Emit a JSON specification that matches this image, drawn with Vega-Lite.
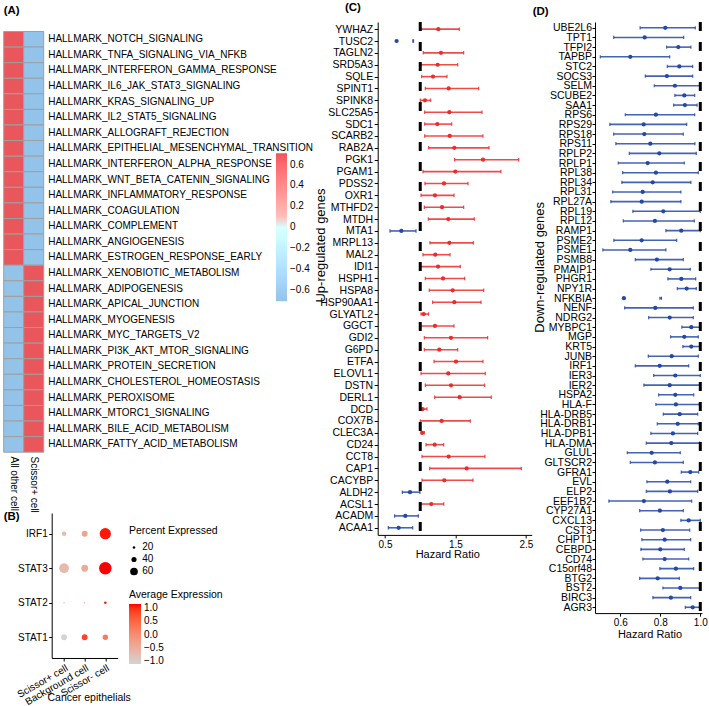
{
  "$schema": "https://vega.github.io/schema/vega-lite/v6.json",
  "usermeta": {"embedOptions": {"actions": false}},
  "padding": {"left": 2.7, "top": 2, "right": 0, "bottom": 1},
  "autosize": {"type": "pad"},
  "datasets": {
    "hallmark": [
      {"pathway": "HALLMARK_NOTCH_SIGNALING", "group": "All other cell", "value": 0.707},
      {"pathway": "HALLMARK_NOTCH_SIGNALING", "group": "Scissor+ cell", "value": -0.707},
      {"pathway": "HALLMARK_TNFA_SIGNALING_VIA_NFKB", "group": "All other cell", "value": 0.707},
      {"pathway": "HALLMARK_TNFA_SIGNALING_VIA_NFKB", "group": "Scissor+ cell", "value": -0.707},
      {"pathway": "HALLMARK_INTERFERON_GAMMA_RESPONSE", "group": "All other cell", "value": 0.707},
      {"pathway": "HALLMARK_INTERFERON_GAMMA_RESPONSE", "group": "Scissor+ cell", "value": -0.707},
      {"pathway": "HALLMARK_IL6_JAK_STAT3_SIGNALING", "group": "All other cell", "value": 0.707},
      {"pathway": "HALLMARK_IL6_JAK_STAT3_SIGNALING", "group": "Scissor+ cell", "value": -0.707},
      {"pathway": "HALLMARK_KRAS_SIGNALING_UP", "group": "All other cell", "value": 0.707},
      {"pathway": "HALLMARK_KRAS_SIGNALING_UP", "group": "Scissor+ cell", "value": -0.707},
      {"pathway": "HALLMARK_IL2_STAT5_SIGNALING", "group": "All other cell", "value": 0.707},
      {"pathway": "HALLMARK_IL2_STAT5_SIGNALING", "group": "Scissor+ cell", "value": -0.707},
      {"pathway": "HALLMARK_ALLOGRAFT_REJECTION", "group": "All other cell", "value": 0.707},
      {"pathway": "HALLMARK_ALLOGRAFT_REJECTION", "group": "Scissor+ cell", "value": -0.707},
      {"pathway": "HALLMARK_EPITHELIAL_MESENCHYMAL_TRANSITION", "group": "All other cell", "value": 0.707},
      {"pathway": "HALLMARK_EPITHELIAL_MESENCHYMAL_TRANSITION", "group": "Scissor+ cell", "value": -0.707},
      {"pathway": "HALLMARK_INTERFERON_ALPHA_RESPONSE", "group": "All other cell", "value": 0.707},
      {"pathway": "HALLMARK_INTERFERON_ALPHA_RESPONSE", "group": "Scissor+ cell", "value": -0.707},
      {"pathway": "HALLMARK_WNT_BETA_CATENIN_SIGNALING", "group": "All other cell", "value": 0.707},
      {"pathway": "HALLMARK_WNT_BETA_CATENIN_SIGNALING", "group": "Scissor+ cell", "value": -0.707},
      {"pathway": "HALLMARK_INFLAMMATORY_RESPONSE", "group": "All other cell", "value": 0.707},
      {"pathway": "HALLMARK_INFLAMMATORY_RESPONSE", "group": "Scissor+ cell", "value": -0.707},
      {"pathway": "HALLMARK_COAGULATION", "group": "All other cell", "value": 0.707},
      {"pathway": "HALLMARK_COAGULATION", "group": "Scissor+ cell", "value": -0.707},
      {"pathway": "HALLMARK_COMPLEMENT", "group": "All other cell", "value": 0.707},
      {"pathway": "HALLMARK_COMPLEMENT", "group": "Scissor+ cell", "value": -0.707},
      {"pathway": "HALLMARK_ANGIOGENESIS", "group": "All other cell", "value": 0.707},
      {"pathway": "HALLMARK_ANGIOGENESIS", "group": "Scissor+ cell", "value": -0.707},
      {"pathway": "HALLMARK_ESTROGEN_RESPONSE_EARLY", "group": "All other cell", "value": 0.707},
      {"pathway": "HALLMARK_ESTROGEN_RESPONSE_EARLY", "group": "Scissor+ cell", "value": -0.707},
      {"pathway": "HALLMARK_XENOBIOTIC_METABOLISM", "group": "All other cell", "value": -0.707},
      {"pathway": "HALLMARK_XENOBIOTIC_METABOLISM", "group": "Scissor+ cell", "value": 0.707},
      {"pathway": "HALLMARK_ADIPOGENESIS", "group": "All other cell", "value": -0.707},
      {"pathway": "HALLMARK_ADIPOGENESIS", "group": "Scissor+ cell", "value": 0.707},
      {"pathway": "HALLMARK_APICAL_JUNCTION", "group": "All other cell", "value": -0.707},
      {"pathway": "HALLMARK_APICAL_JUNCTION", "group": "Scissor+ cell", "value": 0.707},
      {"pathway": "HALLMARK_MYOGENESIS", "group": "All other cell", "value": -0.707},
      {"pathway": "HALLMARK_MYOGENESIS", "group": "Scissor+ cell", "value": 0.707},
      {"pathway": "HALLMARK_MYC_TARGETS_V2", "group": "All other cell", "value": -0.707},
      {"pathway": "HALLMARK_MYC_TARGETS_V2", "group": "Scissor+ cell", "value": 0.707},
      {"pathway": "HALLMARK_PI3K_AKT_MTOR_SIGNALING", "group": "All other cell", "value": -0.707},
      {"pathway": "HALLMARK_PI3K_AKT_MTOR_SIGNALING", "group": "Scissor+ cell", "value": 0.707},
      {"pathway": "HALLMARK_PROTEIN_SECRETION", "group": "All other cell", "value": -0.707},
      {"pathway": "HALLMARK_PROTEIN_SECRETION", "group": "Scissor+ cell", "value": 0.707},
      {"pathway": "HALLMARK_CHOLESTEROL_HOMEOSTASIS", "group": "All other cell", "value": -0.707},
      {"pathway": "HALLMARK_CHOLESTEROL_HOMEOSTASIS", "group": "Scissor+ cell", "value": 0.707},
      {"pathway": "HALLMARK_PEROXISOME", "group": "All other cell", "value": -0.707},
      {"pathway": "HALLMARK_PEROXISOME", "group": "Scissor+ cell", "value": 0.707},
      {"pathway": "HALLMARK_MTORC1_SIGNALING", "group": "All other cell", "value": -0.707},
      {"pathway": "HALLMARK_MTORC1_SIGNALING", "group": "Scissor+ cell", "value": 0.707},
      {"pathway": "HALLMARK_BILE_ACID_METABOLISM", "group": "All other cell", "value": -0.707},
      {"pathway": "HALLMARK_BILE_ACID_METABOLISM", "group": "Scissor+ cell", "value": 0.707},
      {"pathway": "HALLMARK_FATTY_ACID_METABOLISM", "group": "All other cell", "value": -0.707},
      {"pathway": "HALLMARK_FATTY_ACID_METABOLISM", "group": "Scissor+ cell", "value": 0.707}
    ],
    "dot": [
      {"gene": "IRF1", "group": "Scissor+ cell", "pct": 35, "avg": -0.75},
      {"gene": "IRF1", "group": "Background cell", "pct": 46, "avg": -0.35},
      {"gene": "IRF1", "group": "Scissor- cell", "pct": 88, "avg": 1.1},
      {"gene": "STAT3", "group": "Scissor+ cell", "pct": 76, "avg": -0.7},
      {"gene": "STAT3", "group": "Background cell", "pct": 53, "avg": -0.45},
      {"gene": "STAT3", "group": "Scissor- cell", "pct": 97, "avg": 1.15},
      {"gene": "STAT2", "group": "Scissor+ cell", "pct": 10, "avg": -0.5},
      {"gene": "STAT2", "group": "Background cell", "pct": 10, "avg": -0.6},
      {"gene": "STAT2", "group": "Scissor- cell", "pct": 20, "avg": 1.1},
      {"gene": "STAT1", "group": "Scissor+ cell", "pct": 46, "avg": -1.1},
      {"gene": "STAT1", "group": "Background cell", "pct": 46, "avg": 0.85},
      {"gene": "STAT1", "group": "Scissor- cell", "pct": 42, "avg": 0.25}
    ],
    "up": [
      {"gene": "YWHAZ", "hr": 1.256, "lo": 1.011, "hi": 1.554, "effect": "risk"},
      {"gene": "TUSC2", "hr": 0.665, "lo": 0.895, "hi": 0.905, "effect": "protective"},
      {"gene": "TAGLN2", "hr": 1.294, "lo": 1.043, "hi": 1.616, "effect": "risk"},
      {"gene": "SRD5A3", "hr": 1.247, "lo": 1.011, "hi": 1.531, "effect": "risk"},
      {"gene": "SQLE", "hr": 1.181, "lo": 1.02, "hi": 1.379, "effect": "risk"},
      {"gene": "SPINT1", "hr": 1.403, "lo": 1.072, "hi": 1.829, "effect": "risk"},
      {"gene": "SPINK8", "hr": 1.067, "lo": 1.001, "hi": 1.148, "effect": "risk"},
      {"gene": "SLC25A5", "hr": 1.413, "lo": 1.063, "hi": 1.876, "effect": "risk"},
      {"gene": "SDC1", "hr": 1.242, "lo": 1.063, "hi": 1.446, "effect": "risk"},
      {"gene": "SCARB2", "hr": 1.418, "lo": 1.063, "hi": 1.89, "effect": "risk"},
      {"gene": "RAB2A", "hr": 1.483, "lo": 1.119, "hi": 1.975, "effect": "risk"},
      {"gene": "PGK1", "hr": 1.89, "lo": 1.488, "hi": 2.396, "effect": "risk"},
      {"gene": "PGAM1", "hr": 1.498, "lo": 1.039, "hi": 2.145, "effect": "risk"},
      {"gene": "PDSS2", "hr": 1.337, "lo": 1.067, "hi": 1.677, "effect": "risk"},
      {"gene": "OXR1", "hr": 1.209, "lo": 1.011, "hi": 1.479, "effect": "risk"},
      {"gene": "MTHFD2", "hr": 1.309, "lo": 1.058, "hi": 1.616, "effect": "risk"},
      {"gene": "MTDH", "hr": 1.398, "lo": 1.115, "hi": 1.767, "effect": "risk"},
      {"gene": "MTA1", "hr": 0.732, "lo": 0.571, "hi": 0.94, "effect": "protective"},
      {"gene": "MRPL13", "hr": 1.413, "lo": 1.138, "hi": 1.753, "effect": "risk"},
      {"gene": "MAL2", "hr": 1.213, "lo": 1.039, "hi": 1.422, "effect": "risk"},
      {"gene": "IDI1", "hr": 1.252, "lo": 1.001, "hi": 1.568, "effect": "risk"},
      {"gene": "HSPH1", "hr": 1.323, "lo": 1.072, "hi": 1.63, "effect": "risk"},
      {"gene": "HSPA8", "hr": 1.46, "lo": 1.128, "hi": 1.9, "effect": "risk"},
      {"gene": "HSP90AA1", "hr": 1.483, "lo": 1.176, "hi": 1.862, "effect": "risk"},
      {"gene": "GLYATL2", "hr": 1.049, "lo": 1.011, "hi": 1.119, "effect": "risk"},
      {"gene": "GGCT", "hr": 1.209, "lo": 0.996, "hi": 1.479, "effect": "risk"},
      {"gene": "GDI2", "hr": 1.436, "lo": 1.058, "hi": 1.956, "effect": "risk"},
      {"gene": "G6PD", "hr": 1.27, "lo": 1.058, "hi": 1.531, "effect": "risk"},
      {"gene": "ETFA", "hr": 1.507, "lo": 1.195, "hi": 1.89, "effect": "risk"},
      {"gene": "ELOVL1", "hr": 1.398, "lo": 1.011, "hi": 1.923, "effect": "risk"},
      {"gene": "DSTN", "hr": 1.436, "lo": 1.072, "hi": 1.914, "effect": "risk"},
      {"gene": "DERL1", "hr": 1.559, "lo": 1.205, "hi": 2.008, "effect": "risk"},
      {"gene": "DCD", "hr": 1.034, "lo": 1.001, "hi": 1.096, "effect": "risk"},
      {"gene": "COX7B", "hr": 1.304, "lo": 1.001, "hi": 1.71, "effect": "risk"},
      {"gene": "CLEC3A", "hr": 1.029, "lo": 1.011, "hi": 1.058, "effect": "risk"},
      {"gene": "CD24", "hr": 1.205, "lo": 1.082, "hi": 1.333, "effect": "risk"},
      {"gene": "CCT8", "hr": 1.403, "lo": 1.025, "hi": 1.918, "effect": "risk"},
      {"gene": "CAP1", "hr": 1.659, "lo": 1.134, "hi": 2.434, "effect": "risk"},
      {"gene": "CACYBP", "hr": 1.341, "lo": 1.025, "hi": 1.748, "effect": "risk"},
      {"gene": "ALDH2", "hr": 0.855, "lo": 0.746, "hi": 0.996, "effect": "protective"},
      {"gene": "ACSL1", "hr": 1.157, "lo": 1.001, "hi": 1.333, "effect": "risk"},
      {"gene": "ACADM", "hr": 0.788, "lo": 0.637, "hi": 0.973, "effect": "protective"},
      {"gene": "ACAA1", "hr": 0.694, "lo": 0.547, "hi": 0.893, "effect": "protective"}
    ],
    "down": [
      {"gene": "UBE2L6", "hr": 0.825, "lo": 0.699, "hi": 0.975, "effect": "protective"},
      {"gene": "TPT1", "hr": 0.722, "lo": 0.567, "hi": 0.917, "effect": "protective"},
      {"gene": "TFPI2", "hr": 0.89, "lo": 0.832, "hi": 0.953, "effect": "protective"},
      {"gene": "TAPBP", "hr": 0.65, "lo": 0.5, "hi": 0.847, "effect": "protective"},
      {"gene": "STC2", "hr": 0.895, "lo": 0.835, "hi": 0.962, "effect": "protective"},
      {"gene": "SOCS3", "hr": 0.833, "lo": 0.725, "hi": 0.962, "effect": "protective"},
      {"gene": "SELM", "hr": 0.873, "lo": 0.77, "hi": 1.0, "effect": "protective"},
      {"gene": "SCUBE2", "hr": 0.92, "lo": 0.873, "hi": 0.972, "effect": "protective"},
      {"gene": "SAA1", "hr": 0.923, "lo": 0.867, "hi": 0.984, "effect": "protective"},
      {"gene": "RPS6", "hr": 0.778, "lo": 0.625, "hi": 0.972, "effect": "protective"},
      {"gene": "RPS29", "hr": 0.717, "lo": 0.548, "hi": 0.932, "effect": "protective"},
      {"gene": "RPS18", "hr": 0.72, "lo": 0.567, "hi": 0.915, "effect": "protective"},
      {"gene": "RPS11", "hr": 0.75, "lo": 0.578, "hi": 0.973, "effect": "protective"},
      {"gene": "RPLP2", "hr": 0.795, "lo": 0.645, "hi": 0.98, "effect": "protective"},
      {"gene": "RPLP1", "hr": 0.737, "lo": 0.59, "hi": 0.92, "effect": "protective"},
      {"gene": "RPL38", "hr": 0.778, "lo": 0.612, "hi": 0.99, "effect": "protective"},
      {"gene": "RPL34", "hr": 0.762, "lo": 0.608, "hi": 0.953, "effect": "protective"},
      {"gene": "RPL31", "hr": 0.712, "lo": 0.562, "hi": 0.903, "effect": "protective"},
      {"gene": "RPL27A", "hr": 0.707, "lo": 0.553, "hi": 0.903, "effect": "protective"},
      {"gene": "RPL19", "hr": 0.815, "lo": 0.663, "hi": 1.0, "effect": "protective"},
      {"gene": "RPL12", "hr": 0.773, "lo": 0.615, "hi": 0.97, "effect": "protective"},
      {"gene": "RAMP1", "hr": 0.905, "lo": 0.828, "hi": 1.0, "effect": "protective"},
      {"gene": "PSME2", "hr": 0.707, "lo": 0.568, "hi": 0.882, "effect": "protective"},
      {"gene": "PSME1", "hr": 0.65, "lo": 0.513, "hi": 0.828, "effect": "protective"},
      {"gene": "PSMB8", "hr": 0.783, "lo": 0.675, "hi": 0.915, "effect": "protective"},
      {"gene": "PMAIP1", "hr": 0.847, "lo": 0.753, "hi": 0.95, "effect": "protective"},
      {"gene": "PHGR1", "hr": 0.905, "lo": 0.838, "hi": 0.977, "effect": "protective"},
      {"gene": "NPY1R", "hr": 0.932, "lo": 0.885, "hi": 0.98, "effect": "protective"},
      {"gene": "NFKBIA", "hr": 0.618, "lo": 0.798, "hi": 0.806, "effect": "protective"},
      {"gene": "NENF", "hr": 0.775, "lo": 0.622, "hi": 0.965, "effect": "protective"},
      {"gene": "NDRG2", "hr": 0.847, "lo": 0.742, "hi": 0.965, "effect": "protective"},
      {"gene": "MYBPC1", "hr": 0.955, "lo": 0.908, "hi": 1.0, "effect": "protective"},
      {"gene": "MGP", "hr": 0.92, "lo": 0.852, "hi": 0.99, "effect": "protective"},
      {"gene": "KRT5", "hr": 0.955, "lo": 0.913, "hi": 0.998, "effect": "protective"},
      {"gene": "JUNB", "hr": 0.857, "lo": 0.74, "hi": 0.99, "effect": "protective"},
      {"gene": "IRF1", "hr": 0.797, "lo": 0.675, "hi": 0.942, "effect": "protective"},
      {"gene": "IER3", "hr": 0.875, "lo": 0.767, "hi": 1.0, "effect": "protective"},
      {"gene": "IER2", "hr": 0.847, "lo": 0.718, "hi": 0.998, "effect": "protective"},
      {"gene": "HSPA2", "hr": 0.875, "lo": 0.792, "hi": 0.967, "effect": "protective"},
      {"gene": "HLA-F", "hr": 0.878, "lo": 0.778, "hi": 0.995, "effect": "protective"},
      {"gene": "HLA-DRB5", "hr": 0.897, "lo": 0.815, "hi": 0.987, "effect": "protective"},
      {"gene": "HLA-DRB1", "hr": 0.887, "lo": 0.785, "hi": 0.99, "effect": "protective"},
      {"gene": "HLA-DPB1", "hr": 0.863, "lo": 0.753, "hi": 0.987, "effect": "protective"},
      {"gene": "HLA-DMA", "hr": 0.855, "lo": 0.73, "hi": 0.997, "effect": "protective"},
      {"gene": "GLUL", "hr": 0.757, "lo": 0.635, "hi": 0.9, "effect": "protective"},
      {"gene": "GLTSCR2", "hr": 0.773, "lo": 0.65, "hi": 0.915, "effect": "protective"},
      {"gene": "GFRA1", "hr": 0.95, "lo": 0.905, "hi": 0.992, "effect": "protective"},
      {"gene": "EVL", "hr": 0.835, "lo": 0.733, "hi": 0.952, "effect": "protective"},
      {"gene": "ELP2", "hr": 0.848, "lo": 0.73, "hi": 0.987, "effect": "protective"},
      {"gene": "EEF1B2", "hr": 0.718, "lo": 0.543, "hi": 0.957, "effect": "protective"},
      {"gene": "CYP27A1", "hr": 0.798, "lo": 0.697, "hi": 0.915, "effect": "protective"},
      {"gene": "CXCL13", "hr": 0.942, "lo": 0.903, "hi": 1.0, "effect": "protective"},
      {"gene": "CST3", "hr": 0.813, "lo": 0.702, "hi": 0.947, "effect": "protective"},
      {"gene": "CHPT1", "hr": 0.822, "lo": 0.708, "hi": 0.952, "effect": "protective"},
      {"gene": "CEBPD", "hr": 0.8, "lo": 0.703, "hi": 0.92, "effect": "protective"},
      {"gene": "CD74", "hr": 0.822, "lo": 0.713, "hi": 0.942, "effect": "protective"},
      {"gene": "C15orf48", "hr": 0.878, "lo": 0.798, "hi": 0.967, "effect": "protective"},
      {"gene": "BTG2", "hr": 0.787, "lo": 0.697, "hi": 0.895, "effect": "protective"},
      {"gene": "BST2", "hr": 0.9, "lo": 0.813, "hi": 1.0, "effect": "protective"},
      {"gene": "BIRC3", "hr": 0.853, "lo": 0.763, "hi": 0.952, "effect": "protective"},
      {"gene": "AGR3", "hr": 0.962, "lo": 0.925, "hi": 1.0, "effect": "protective"}
    ],
    "ref": [{"ref": 1}]
  },
  "bounds": "flush",
  "spacing": 374,
  "resolve": {"scale": {"color": "independent", "size": "independent"}, "legend": {"color": "independent", "size": "independent"}},
  "hconcat": [
    {
      "bounds": "flush",
      "spacing": 51,
      "resolve": {"scale": {"color": "independent", "size": "independent"}, "legend": {"color": "independent", "size": "independent"}},
      "vconcat": [
        {
          "width": 40,
          "height": 439.7,
          "data": {"name": "hallmark"},
          "title": {"text": "(A)", "anchor": "start", "frame": "group", "baseline": "middle", "offset": 0, "dx": 0, "dy": 0.3, "fontSize": 11.5, "fontWeight": "bold"},
          "mark": {"type": "rect", "stroke": "#9F9F9F", "strokeWidth": 1},
          "encoding": {
            "x": {"field": "group", "type": "nominal", "sort": ["All other cell", "Scissor+ cell"], "scale": {"paddingInner": 0, "paddingOuter": 0},
              "axis": {"orient": "bottom", "title": null, "labelAngle": 90, "labelAlign": "left", "labelBaseline": "middle", "labelPadding": -5.7, "ticks": false, "domain": false, "labelFontSize": 10}},
            "y": {"field": "pathway", "type": "nominal", "sort": null, "scale": {"paddingInner": 0, "paddingOuter": 0.61},
              "axis": {"orient": "right", "title": null, "ticks": false, "domain": false, "labelPadding": 4, "labelFontSize": 10, "labelLimit": 0}},
            "color": {"field": "value", "type": "quantitative", "scale": {"domain": [-0.707, 0.707], "range": ["#94C3EA", "#FFFFFF", "#E9575C"]},
              "legend": {"orient": "none", "legendX": 272.3, "legendY": 131.3, "title": null, "direction": "vertical", "gradientLength": 148, "gradientThickness": 11, "gradientStrokeWidth": 0, "values": [-0.6, -0.4, -0.2, 0, 0.2, 0.4, 0.6], "format": ".1~f", "labelFontSize": 10, "labelOffset": 3, "labelOverlap": false, "padding": 0}}
          }
        },
        {
          "bounds": "flush",
          "spacing": 8,
          "resolve": {"scale": {"color": "independent", "size": "independent"}, "legend": {"color": "independent", "size": "independent"}},
          "hconcat": [
            {"width": 40, "height": 1, "data": {"values": []}, "mark": "point"},
            {
              "width": 66,
              "height": 145,
              "data": {"name": "dot"},
              "title": {"text": "(B)", "anchor": "start", "frame": "group", "baseline": "middle", "offset": 0, "dx": -48, "dy": 16, "fontSize": 11.5, "fontWeight": "bold"},
              "mark": {"type": "circle", "opacity": 1},
              "encoding": {
                "x": {"field": "group", "type": "nominal", "sort": ["Scissor+ cell", "Background cell", "Scissor- cell"], "scale": {"type": "point", "padding": 0.6},
                  "axis": {"title": "Cancer epithelials", "labelAngle": -30, "labelAlign": "right", "labelBaseline": "top", "tickSize": 3, "labelPadding": 1.5, "labelFontSize": 10, "titleFontSize": 10.5, "titleX": 37, "titleY": 40, "titleBaseline": "middle", "titleAlign": "center"}},
                "y": {"field": "gene", "type": "nominal", "sort": ["IRF1", "STAT3", "STAT2", "STAT1"], "scale": {"type": "point", "padding": 0.6},
                  "axis": {"title": null, "tickSize": 3, "labelPadding": 1.5, "labelFontSize": 10}},
                "size": {"field": "pct", "type": "quantitative", "scale": {"type": "pow", "exponent": 2, "domain": [0, 100], "range": [0, 164]},
                  "legend": {"orient": "none", "legendX": 77.3, "legendY": 13, "title": "Percent Expressed", "values": [20, 40, 60], "titleFontSize": 10.5, "labelFontSize": 10, "symbolType": "circle", "symbolFillColor": "black", "symbolStrokeWidth": 0, "symbolOpacity": 1, "titlePadding": 6, "rowPadding": 2, "labelOffset": 3.3, "padding": 0,
                    "encode": {"symbols": {"update": {"fill": {"value": "black"}, "stroke": {"value": "transparent"}, "opacity": {"value": 1}}}}}},
                "color": {"field": "avg", "type": "quantitative", "scale": {"domain": [-1.1, 1.15], "range": ["#D3D3D3", "#FF0000"], "interpolate": "lab"},
                  "legend": {"orient": "none", "legendX": 77.3, "legendY": 77, "title": "Average Expression", "direction": "vertical", "gradientLength": 60, "gradientThickness": 12, "gradientStrokeWidth": 0, "values": [-1, -0.5, 0, 0.5, 1], "format": ".1f", "titleFontSize": 10.5, "labelFontSize": 10, "titlePadding": 3.5, "labelOffset": 3, "labelOverlap": false, "padding": 0}}
              }
            }
          ]
        }
      ]
    },
    {
      "bounds": "flush",
      "spacing": 63.3,
      "resolve": {"scale": {"color": "independent", "size": "independent"}, "legend": {"color": "independent", "size": "independent"}},
      "hconcat": [
        {
          "width": 154,
          "height": 512.9,
          "title": {"text": "(C)", "anchor": "start", "frame": "group", "baseline": "middle", "offset": 0, "dx": -32.7, "dy": -0.7, "fontSize": 11.5, "fontWeight": "bold"},
          "layer": [
            {
              "data": {"name": "up"},
              "mark": {"type": "rule", "strokeWidth": 1.6, "opacity": 0.85},
              "encoding": {
                "y": {"field": "gene", "type": "nominal", "sort": null, "scale": {"type": "point", "padding": 0.6},
                  "axis": {"title": "Up-regulated genes", "titleFontSize": 13, "titleX": -56.7, "titleY": 223, "titleAlign": "center", "titleBaseline": "middle", "tickSize": 3.5, "labelPadding": 1.5, "labelFontSize": 10.5, "labelLimit": 0}},
                "x": {"field": "lo", "type": "quantitative", "scale": {"domain": [0.3965, 2.581], "nice": false, "zero": false},
                  "axis": {"title": "Hazard Ratio", "values": [0.5, 1, 1.5, 2, 2.5], "format": ".1f", "tickSize": 3, "labelPadding": 1.5, "labelFontSize": 10, "titleFontSize": 11, "titleX": 69.5, "titleY": 20, "titleBaseline": "middle", "titleAlign": "center"}},
                "x2": {"field": "hi"},
                "color": {"field": "effect", "type": "nominal", "scale": {"domain": ["risk", "protective"], "range": ["#EC2B2B", "#2348A5"]}, "legend": null}
              }
            },
            {
              "data": {"name": "up"},
              "mark": {"type": "tick", "thickness": 1.2, "size": 3.5, "opacity": 0.85},
              "encoding": {
                "y": {"field": "gene", "type": "nominal", "sort": null},
                "x": {"field": "lo", "type": "quantitative"},
                "color": {"field": "effect", "type": "nominal", "legend": null}
              }
            },
            {
              "data": {"name": "up"},
              "mark": {"type": "tick", "thickness": 1.2, "size": 3.5, "opacity": 0.85},
              "encoding": {
                "y": {"field": "gene", "type": "nominal", "sort": null},
                "x": {"field": "hi", "type": "quantitative"},
                "color": {"field": "effect", "type": "nominal", "legend": null}
              }
            },
            {
              "data": {"name": "up"},
              "mark": {"type": "circle", "size": 18, "opacity": 1},
              "encoding": {
                "y": {"field": "gene", "type": "nominal", "sort": null},
                "x": {"field": "hr", "type": "quantitative"},
                "color": {"field": "effect", "type": "nominal", "legend": null}
              }
            },
            {
              "data": {"name": "ref"},
              "mark": {"type": "rule", "strokeWidth": 3, "strokeDash": [9, 11], "color": "black"},
              "encoding": {"x": {"field": "ref", "type": "quantitative"}}
            }
          ]
        },
        {
          "width": 107,
          "height": 591.1,
          "title": {"text": "(D)", "anchor": "start", "frame": "group", "baseline": "middle", "offset": 0, "dx": -62.3, "dy": 3, "fontSize": 11.5, "fontWeight": "bold"},
          "layer": [
            {
              "data": {"name": "down"},
              "mark": {"type": "rule", "strokeWidth": 1.6, "opacity": 0.85},
              "encoding": {
                "y": {"field": "gene", "type": "nominal", "sort": null, "scale": {"type": "point", "padding": 0.6},
                  "axis": {"title": "Down-regulated genes", "titleFontSize": 13, "titleX": -55.5, "titleY": 244.8, "titleAlign": "center", "titleBaseline": "middle", "tickSize": 3, "labelPadding": 0.5, "labelFontSize": 10.5, "labelLimit": 0}},
                "x": {"field": "lo", "type": "quantitative", "scale": {"domain": [0.4735, 1.0085], "nice": false, "zero": false},
                  "axis": {"title": "Hazard Ratio", "values": [0.6, 0.8, 1], "format": ".1f", "tickSize": 3, "labelPadding": 1, "labelFontSize": 10, "titleFontSize": 11, "titleX": 54.5, "titleY": 21.5, "titleBaseline": "middle", "titleAlign": "center"}},
                "x2": {"field": "hi"},
                "color": {"field": "effect", "type": "nominal", "scale": {"domain": ["risk", "protective"], "range": ["#EC2B2B", "#2348A5"]}, "legend": null}
              }
            },
            {
              "data": {"name": "down"},
              "mark": {"type": "tick", "thickness": 1.2, "size": 3.2, "opacity": 0.85},
              "encoding": {
                "y": {"field": "gene", "type": "nominal", "sort": null},
                "x": {"field": "lo", "type": "quantitative"},
                "color": {"field": "effect", "type": "nominal", "legend": null}
              }
            },
            {
              "data": {"name": "down"},
              "mark": {"type": "tick", "thickness": 1.2, "size": 3.2, "opacity": 0.85},
              "encoding": {
                "y": {"field": "gene", "type": "nominal", "sort": null},
                "x": {"field": "hi", "type": "quantitative"},
                "color": {"field": "effect", "type": "nominal", "legend": null}
              }
            },
            {
              "data": {"name": "down"},
              "mark": {"type": "circle", "size": 18, "opacity": 1},
              "encoding": {
                "y": {"field": "gene", "type": "nominal", "sort": null},
                "x": {"field": "hr", "type": "quantitative"},
                "color": {"field": "effect", "type": "nominal", "legend": null}
              }
            },
            {
              "data": {"name": "ref"},
              "mark": {"type": "rule", "strokeWidth": 3, "strokeDash": [9, 11], "color": "black"},
              "encoding": {"x": {"field": "ref", "type": "quantitative"}}
            }
          ]
        }
      ]
    }
  ],
  "config": {
    "view": {"stroke": null},
    "font": "Liberation Sans",
    "axis": {"labelColor": "black", "titleColor": "black", "domainColor": "black", "tickColor": "black", "grid": false, "labelFont": "Liberation Sans", "titleFont": "Liberation Sans", "titleFontWeight": "normal", "domainWidth": 1, "tickWidth": 1},
    "legend": {"labelColor": "black", "titleColor": "black", "titleFontWeight": "normal", "labelFont": "Liberation Sans", "titleFont": "Liberation Sans"},
    "title": {"font": "Liberation Sans", "color": "black"}
  }
}
